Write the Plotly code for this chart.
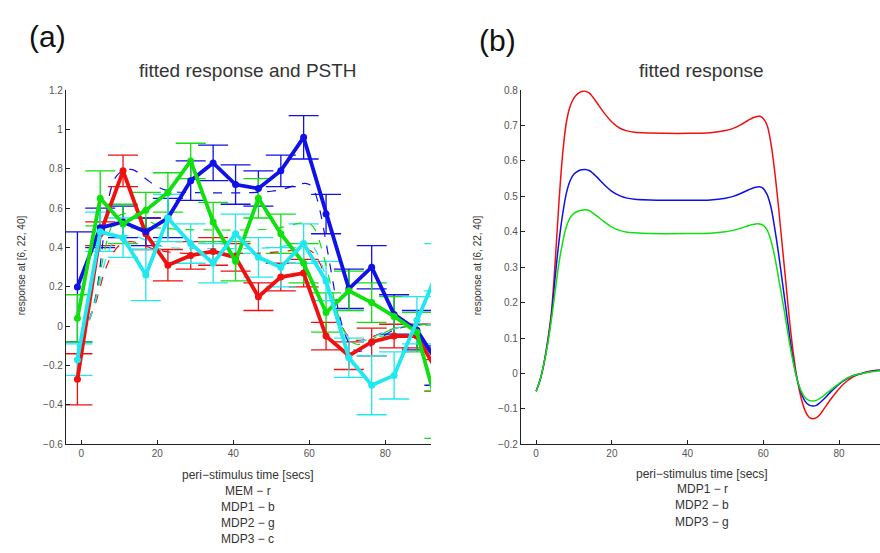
import plotly.graph_objects as go

W, H = 880, 553

# ---------------- panel (a): PSTH data ----------------
psth_t = [-1, 5, 11, 17, 22.8, 28.8, 34.7, 40.6, 46.6, 52.5, 58.5, 64.4, 70.4, 76.4, 82.3, 88.3, 94.2]

mem_y   = [-0.27, 0.47, 0.79, 0.47, 0.31, 0.36, 0.38, 0.35, 0.15, 0.25, 0.27, -0.05, -0.15, -0.08, -0.05, -0.05, -0.25]
mem_e   = [0.13, 0.06, 0.08, 0.08, 0.08, 0.07, 0.07, 0.07, 0.07, 0.07, 0.07, 0.07, 0.07, 0.07, 0.06, 0.06, 0.08]
mdp1_y  = [0.20, 0.50, 0.53, 0.48, 0.55, 0.74, 0.83, 0.72, 0.70, 0.79, 0.96, 0.57, 0.19, 0.30, 0.06, -0.02, -0.20]
mdp1_e  = [0.28, 0.10, 0.08, 0.07, 0.10, 0.10, 0.09, 0.10, 0.09, 0.08, 0.11, 0.10, 0.10, 0.11, 0.10, 0.10, 0.10]
mdp2_y  = [0.04, 0.65, 0.52, 0.59, 0.68, 0.84, 0.53, 0.33, 0.65, 0.47, 0.32, 0.07, 0.18, 0.12, 0.05, -0.03, -0.45]
mdp2_e  = [0.12, 0.14, 0.10, 0.09, 0.10, 0.09, 0.10, 0.10, 0.10, 0.10, 0.10, 0.10, 0.10, 0.10, 0.10, 0.10, 0.12]
mdp3_y  = [-0.17, 0.48, 0.45, 0.26, 0.55, 0.42, 0.32, 0.47, 0.35, 0.30, 0.42, 0.23, -0.16, -0.30, -0.25, 0.03, 0.30]
mdp3_e  = [0.08, 0.10, 0.10, 0.13, 0.12, 0.10, 0.10, 0.10, 0.10, 0.10, 0.10, 0.10, 0.10, 0.15, 0.12, 0.12, 0.12]

# ---------------- fitted responses ----------------
fit_t = [0, 1, 2, 3, 4, 5, 6, 7, 8, 9, 10, 11, 12, 13, 14, 15, 16,
         18, 20, 22, 24, 26,
         30, 40, 46,
         50, 52, 54, 56, 58, 59,
         60, 61, 62, 63, 64, 65, 66, 67, 68, 69, 70, 71, 72, 73, 74, 75, 76,
         78, 80, 82, 84, 86, 88, 90, 92]

fit_mdp1 = [-0.05, -0.02, 0.025, 0.09, 0.17, 0.31, 0.48, 0.62, 0.71, 0.755, 0.778, 0.79, 0.796, 0.797, 0.792, 0.78, 0.765,
            0.735, 0.71, 0.693, 0.685, 0.681,
            0.679, 0.678, 0.68,
            0.686, 0.692, 0.702, 0.715, 0.725, 0.726,
            0.72, 0.70, 0.65, 0.57, 0.47, 0.36, 0.25, 0.14, 0.05, -0.02, -0.07, -0.105, -0.123, -0.128, -0.125, -0.115, -0.10,
            -0.07, -0.043, -0.022, -0.008, 0.0, 0.006, 0.009, 0.01]
fit_mdp2 = [-0.05, -0.02, 0.025, 0.085, 0.16, 0.27, 0.37, 0.45, 0.51, 0.545, 0.563, 0.571, 0.575, 0.576, 0.573, 0.565, 0.555,
            0.533, 0.514, 0.502, 0.495, 0.492,
            0.49, 0.489, 0.49,
            0.495, 0.50, 0.508, 0.518, 0.526, 0.527,
            0.522, 0.505, 0.47, 0.41, 0.34, 0.26, 0.18, 0.10, 0.03, -0.02, -0.055, -0.078, -0.089, -0.092, -0.09, -0.082, -0.072,
            -0.05, -0.03, -0.015, -0.005, 0.0, 0.005, 0.008, 0.009]
fit_mdp3 = [-0.05, -0.02, 0.025, 0.08, 0.15, 0.23, 0.31, 0.37, 0.415, 0.44, 0.452, 0.458, 0.461, 0.462, 0.46, 0.453, 0.445,
            0.428, 0.413, 0.404, 0.399, 0.397,
            0.395, 0.395, 0.396,
            0.40, 0.404, 0.41, 0.417, 0.422, 0.422,
            0.418, 0.405, 0.375, 0.33, 0.27, 0.21, 0.145, 0.08, 0.025, -0.02, -0.05, -0.068, -0.076, -0.078, -0.076, -0.07, -0.062,
            -0.045, -0.028, -0.014, -0.005, 0.0, 0.004, 0.007, 0.008]
fit_mem = [-0.05, -0.02, 0.025, 0.075, 0.13, 0.20, 0.27, 0.32, 0.36, 0.39, 0.41, 0.422, 0.428, 0.43, 0.428, 0.422, 0.415,
           0.40, 0.388, 0.38, 0.375, 0.372,
           0.37, 0.37, 0.371,
           0.375, 0.378, 0.382, 0.387, 0.39, 0.39,
           0.386, 0.374, 0.348, 0.31, 0.26, 0.205, 0.145, 0.085, 0.03, -0.015, -0.045, -0.062, -0.07, -0.072, -0.07, -0.065, -0.058,
           -0.042, -0.026, -0.013, -0.005, 0.0, 0.004, 0.006, 0.007]

left_legend = ["MEM \u2212 r", "MDP1 \u2212 b", "MDP2 \u2212 g", "MDP3 \u2212 c"]
right_legend = ["MDP1 \u2212 r", "MDP2 \u2212 b", "MDP3 \u2212 g"]

RED, BLUE, GREEN, CYAN = "#f01010", "#1010e8", "#10e010", "#20e8f0"
FONT = "Liberation Sans, Arial, sans-serif"

fig = go.Figure()

series = [
    (mem_y, mem_e, fit_mem, RED),
    (mdp1_y, mdp1_e, fit_mdp1, BLUE),
    (mdp2_y, mdp2_e, fit_mdp2, GREEN),
    (mdp3_y, mdp3_e, fit_mdp3, CYAN),
]

for y, e, f, c in series:
    fig.add_trace(go.Scatter(x=psth_t, y=y, mode="markers", marker=dict(size=1, opacity=0),
                             error_y=dict(type="data", array=e, color=c, thickness=1.3, width=15),
                             xaxis="x", yaxis="y", showlegend=False, hoverinfo="skip"))
for y, e, f, c in series:
    fig.add_trace(go.Scatter(x=fit_t, y=f, mode="lines", line=dict(color=c, width=1.2, dash="dash", shape="spline"),
                             xaxis="x", yaxis="y", showlegend=False))
for y, e, f, c in series:
    fig.add_trace(go.Scatter(x=psth_t, y=y, mode="lines+markers", line=dict(color=c, width=3.8),
                             marker=dict(color=c, size=7), xaxis="x", yaxis="y", showlegend=False, cliponaxis=True))

for f, c in [(fit_mdp1, RED), (fit_mdp2, BLUE), (fit_mdp3, GREEN)]:
    fig.add_trace(go.Scatter(x=fit_t, y=f, mode="lines", line=dict(color=c, width=1.5, shape="spline"),
                             xaxis="x2", yaxis="y2", showlegend=False))

def px(x):
    return x / W

def py(y):
    return 1 - y / H

axis_common = dict(showline=True, linecolor="#222", linewidth=1.3, mirror=False, ticks="inside",
                   ticklen=4, tickcolor="#222", showgrid=False, zeroline=False,
                   tickfont=dict(family=FONT, size=10, color="#555"))

fig.update_layout(
    width=W, height=H, margin=dict(l=0, r=0, t=0, b=0),
    paper_bgcolor="white", plot_bgcolor="white", showlegend=False,
    xaxis=dict(domain=[px(66), px(431)], range=[-4, 92], tickvals=[0, 20, 40, 60, 80], anchor="y", **axis_common),
    yaxis=dict(domain=[py(448), py(86)], range=[-0.6, 1.2], tickvals=[-0.6, -0.4, -0.2, 0, 0.2, 0.4, 0.6, 0.8, 1, 1.2],
               anchor="x", **axis_common),
    xaxis2=dict(domain=[px(521), 1.0], range=[-4, 90.8], tickvals=[0, 20, 40, 60, 80], anchor="y2", **axis_common),
    yaxis2=dict(domain=[py(448), py(86)], range=[-0.2, 0.8], dtick=0.1, tick0=0, anchor="x2", **axis_common),
)

ann = []
def txt(x, y, s, size, angle=0, color="#333"):
    ann.append(dict(x=px(x), y=py(y), xref="paper", yref="paper", text=s, showarrow=False,
                    font=dict(family=FONT, size=size, color=color), xanchor="center", yanchor="middle",
                    textangle=angle))

txt(47, 31, "(a)", 30, color="#111")
txt(497, 35, "(b)", 30, color="#111")
txt(248, 66, "fitted response and PSTH", 19)
txt(701, 66, "fitted response", 19)
txt(21, 265, "response at [6, 22, 40]", 10, angle=-90)
txt(477, 265, "response at [6, 22, 40]", 10, angle=-90)
txt(248, 479, "peri\u2212stimulus time [secs]", 12)
for i, s in enumerate(left_legend):
    txt(248, 496 + 16.3 * i, s, 12)
txt(702, 478, "peri\u2212stimulus time [secs]", 12)
for i, s in enumerate(right_legend):
    txt(702, 494 + 16.5 * i, s, 12)

fig.update_layout(annotations=ann)
fig.write_html("out.html")
